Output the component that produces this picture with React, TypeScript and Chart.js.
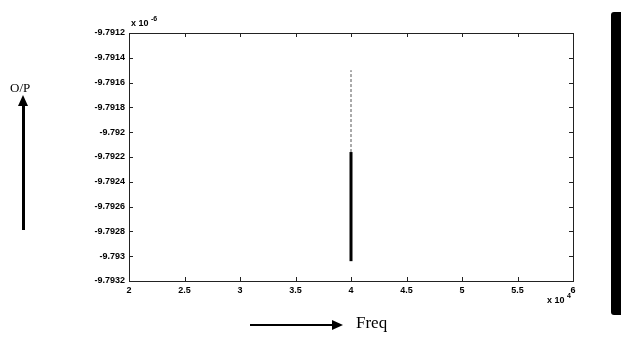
import React, { useEffect, useRef } from "react";
import { Chart, registerables } from "chart.js";

Chart.register(...registerables);

// Data
const spikeFreq = [4, 4]; // ×10^4
const spikeSolid = [-9.79304, -9.79216]; // ×10^-6
const spikeDotted = [-9.79216, -9.7915];

const xTickValues = [2, 2.5, 3, 3.5, 4, 4.5, 5, 5.5, 6];
const xTickLabels = ["2", "2.5", "3", "3.5", "4", "4.5", "5", "5.5", "6"];
const yTickValues = [
  -9.7932, -9.793, -9.7928, -9.7926, -9.7924, -9.7922, -9.792, -9.7918, -9.7916, -9.7914, -9.7912,
];
const yTickLabels = [
  "-9.7932", "-9.793", "-9.7928", "-9.7926", "-9.7924", "-9.7922", "-9.792", "-9.7918", "-9.7916", "-9.7914", "-9.7912",
];

const framePlugin = {
  id: "matlabFrame",
  afterDraw(chart: any) {
    const { ctx, chartArea: a, scales } = chart;
    ctx.save();
    ctx.strokeStyle = "#222";
    ctx.lineWidth = 1;
    ctx.strokeRect(Math.round(a.left) + 0.5, Math.round(a.top) + 0.5, Math.round(a.right - a.left), Math.round(a.bottom - a.top));
    const tl = 4;
    ctx.beginPath();
    xTickValues.forEach((v) => {
      const x = Math.round(scales.x.getPixelForValue(v)) + 0.5;
      ctx.moveTo(x, a.bottom);
      ctx.lineTo(x, a.bottom - tl);
      ctx.moveTo(x, a.top);
      ctx.lineTo(x, a.top + tl);
    });
    yTickValues.forEach((v) => {
      const y = Math.round(scales.y.getPixelForValue(v)) + 0.5;
      ctx.moveTo(a.left, y);
      ctx.lineTo(a.left + tl, y);
      ctx.moveTo(a.right, y);
      ctx.lineTo(a.right - tl, y);
    });
    ctx.stroke();
    ctx.fillStyle = "#000";
    ctx.font = "bold 9px 'Liberation Sans', Arial, sans-serif";
    ctx.textBaseline = "alphabetic";
    ctx.textAlign = "left";
    ctx.fillText("x 10", a.left + 2, a.top - 7);
    ctx.font = "bold 7px 'Liberation Sans', Arial, sans-serif";
    ctx.fillText("-6", a.left + 22, a.top - 12);
    ctx.font = "bold 9px 'Liberation Sans', Arial, sans-serif";
    ctx.fillText("x 10", a.right - 26, a.bottom + 22);
    ctx.font = "bold 7px 'Liberation Sans', Arial, sans-serif";
    ctx.fillText("4", a.right - 6, a.bottom + 17);
    ctx.restore();
  },
};

export default function App() {
  const ref = useRef<HTMLCanvasElement>(null);

  useEffect(() => {
    if (!ref.current) return;
    const chart = new Chart(ref.current, {
      type: "scatter",
      data: {
        datasets: [
          {
            data: spikeFreq.map((x, i) => ({ x, y: spikeSolid[i] })),
            showLine: true,
            borderColor: "#000",
            borderWidth: 3,
            pointRadius: 0,
          },
          {
            data: spikeFreq.map((x, i) => ({ x, y: spikeDotted[i] })),
            showLine: true,
            borderColor: "#555",
            borderWidth: 1,
            borderDash: [3, 2],
            pointRadius: 0,
          },
        ],
      },
      options: {
        animation: false,
        responsive: false,
        events: [],
        layout: { padding: { left: 0, right: 48, top: 33, bottom: 0 } },
        plugins: { legend: { display: false }, tooltip: { enabled: false } },
        scales: {
          x: {
            type: "linear",
            min: 2,
            max: 6,
            afterBuildTicks: (s: any) => {
              s.ticks = xTickValues.map((v) => ({ value: v }));
            },
            afterFit: (s: any) => {
              s.height = 64;
            },
            grid: { display: false, drawTicks: false },
            border: { display: false },
            ticks: {
              padding: 4,
              color: "#000",
              font: { size: 9, weight: "bold", family: "'Liberation Sans', Arial, sans-serif" },
              maxRotation: 0,
              autoSkip: false,
              callback: (v: any) => {
                const i = xTickValues.findIndex((t) => Math.abs(t - v) < 1e-9);
                return i >= 0 ? xTickLabels[i] : "";
              },
            },
          },
          y: {
            type: "linear",
            min: -9.7932,
            max: -9.7912,
            afterBuildTicks: (s: any) => {
              s.ticks = yTickValues.map((v) => ({ value: v }));
            },
            afterFit: (s: any) => {
              s.width = 129;
            },
            grid: { display: false, drawTicks: false },
            border: { display: false },
            ticks: {
              padding: 4,
              color: "#000",
              font: { size: 9, weight: "bold", family: "'Liberation Sans', Arial, sans-serif" },
              autoSkip: false,
              callback: (v: any) => {
                const i = yTickValues.findIndex((t) => Math.abs(t - v) < 1e-9);
                return i >= 0 ? yTickLabels[i] : "";
              },
            },
          },
        },
      },
      plugins: [framePlugin],
    } as any);
    return () => chart.destroy();
  }, []);

  return (
    <div style={{ position: "fixed", left: 0, top: 0, width: 621, height: 345, background: "#fff", overflow: "hidden" }}>
      <canvas ref={ref} width={621} height={345} style={{ position: "absolute", left: 0, top: 0, width: 621, height: 345 }} />
      <div
        style={{
          position: "absolute",
          left: 10,
          top: 80,
          fontFamily: "'Liberation Serif', serif",
          fontSize: 13,
          color: "#000",
        }}
      >
        O/P
      </div>
      <div style={{ position: "absolute", left: 22, top: 104, width: 3, height: 126, background: "#000" }} />
      <div
        style={{
          position: "absolute",
          left: 18,
          top: 95,
          width: 0,
          height: 0,
          borderLeft: "5.5px solid transparent",
          borderRight: "5.5px solid transparent",
          borderBottom: "11px solid #000",
        }}
      />
      <div style={{ position: "absolute", left: 250, top: 324, width: 84, height: 2, background: "#000" }} />
      <div
        style={{
          position: "absolute",
          left: 332,
          top: 320,
          width: 0,
          height: 0,
          borderTop: "5px solid transparent",
          borderBottom: "5px solid transparent",
          borderLeft: "11px solid #000",
        }}
      />
      <div
        style={{
          position: "absolute",
          left: 356,
          top: 313,
          fontFamily: "'Liberation Serif', serif",
          fontSize: 17,
          color: "#000",
        }}
      >
        Freq
      </div>
      <div
        style={{
          position: "absolute",
          left: 611,
          top: 12,
          width: 10,
          height: 303,
          background: "#000",
          borderRadius: "3px 0 0 3px",
        }}
      />
    </div>
  );
}
